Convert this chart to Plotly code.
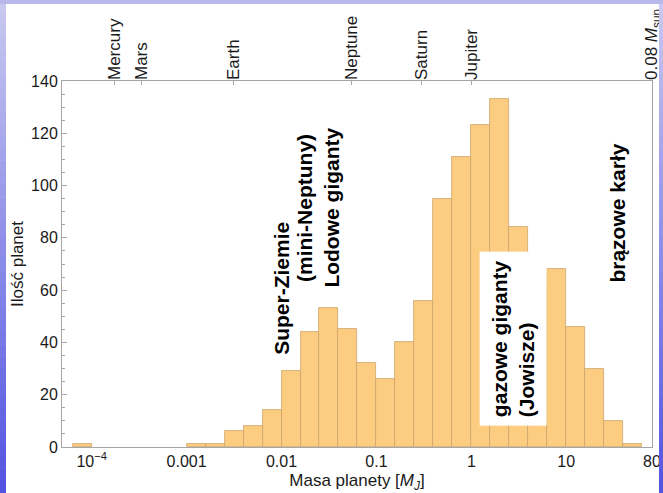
import math
import plotly.graph_objects as go

# Histogram of exoplanet masses, binned in log10(M / M_J) with 0.2-dex bins
bin_left_log10 = [-4.2, -3.0, -2.8, -2.6, -2.4, -2.2, -2.0, -1.8, -1.6, -1.4,
                  -1.2, -1.0, -0.8, -0.6, -0.4, -0.2, 0.0, 0.2, 0.4, 0.6,
                  0.8, 1.0, 1.2, 1.4, 1.6]
planet_counts = [1, 1, 1, 6, 8, 14, 29, 44, 53, 45,
                 32, 26, 40, 56, 95, 111, 123, 133, 84, 60,
                 68, 46, 30, 10, 1]
bin_width = 0.2

# Bottom axis ticks (mass in Jupiter masses)
bottom_tick_masses = [1e-4, 1e-3, 1e-2, 1e-1, 1, 10, 80]
bottom_tick_text = ["10<sup>\u22124</sup>", "0.001", "0.01", "0.1", "1", "10", "80"]

# Reference bodies on the top axis (mass in Jupiter masses)
ref_names = ["Mercury", "Mars", "Earth", "Neptune", "Saturn", "Jupiter",
             "0.08 <i>M</i><sub>sun</sub>"]
ref_masses = [1.74e-4, 3.38e-4, 3.146e-3, 0.0540, 0.299, 1.0, 80]

x_range = [-4.313, math.log10(80) + 0.0005]

W, H = 663, 493
M_L, M_R, M_T, M_B = 62, 11, 81, 46
FONT = "Liberation Sans, Arial, Helvetica, sans-serif"
BAR_FILL = "#FCCD80"
BAR_EDGE = "#C9A36A"
FRAME = "#A6A6A6"

centers = [b + bin_width / 2 for b in bin_left_log10]

fig = go.Figure()
fig.add_trace(go.Bar(
    x=centers, y=planet_counts, width=bin_width,
    marker=dict(color=BAR_FILL, line=dict(color=BAR_EDGE, width=0.8)),
    hoverinfo="skip", showlegend=False,
))
# empty trace so the top axis is laid out
fig.add_trace(go.Scatter(x=[None], y=[None], xaxis="x2", showlegend=False, hoverinfo="skip"))

tick_font = dict(family=FONT, size=16, color="#1a1a1a")

fig.update_layout(
    width=W, height=H,
    margin=dict(l=M_L, r=M_R, t=M_T, b=M_B, pad=0, autoexpand=False),
    paper_bgcolor="white", plot_bgcolor="white",
    bargap=0,
    xaxis=dict(
        range=x_range, showgrid=False, zeroline=False, automargin=False,
        showline=True, linecolor=FRAME, linewidth=1, mirror=True,
        tickvals=[math.log10(m) for m in bottom_tick_masses],
        ticktext=bottom_tick_text, ticks="", ticklabeloverflow="allow",
        tickfont=tick_font,
        title=dict(text="Masa planety [<i>M</i><sub><i>J</i></sub>]",
                   font=dict(family=FONT, size=17, color="#1a1a1a"), standoff=6),
    ),
    xaxis2=dict(
        overlaying="x", side="top", matches="x", range=x_range, automargin=False,
        showgrid=False, zeroline=False, showline=False,
        tickvals=[math.log10(m) for m in ref_masses], ticktext=ref_names,
        tickangle=-90, ticks="inside", ticklen=4, tickcolor=FRAME,
        ticklabeloverflow="allow",
        tickfont=dict(family=FONT, size=17, color="#1a1a1a"),
    ),
    yaxis=dict(
        range=[0, 140], showgrid=False, zeroline=False, automargin=False,
        showline=True, linecolor=FRAME, linewidth=1, mirror=True,
        tickvals=list(range(0, 141, 20)), ticks="inside", ticklen=5,
        tickcolor=FRAME, tickfont=tick_font,
        minor=dict(dtick=5, ticks="inside", ticklen=3, tickcolor=FRAME),
        title=dict(text="Ilo\u015b\u0107 planet",
                   font=dict(family=FONT, size=17, color="#1a1a1a"), standoff=3),
    ),
)

# Category labels inside the plot
label_font = dict(family=FONT, size=21, color="black", weight="bold")
labels = [
    ("Super-Ziemie", -1.995, 60.5),
    ("(mini-Neptuny)", -1.75, 91.5),
    ("Lodowe giganty", -1.47, 91.5),
    ("br\u0105zowe karły", 1.53, 89.5),
]
for text, xv, yv in labels:
    fig.add_annotation(x=xv, y=yv, xref="x", yref="y", text=text, showarrow=False,
                       textangle=-90, font=label_font)
fig.add_annotation(x=0.435, y=41.5, xref="x", yref="y",
                   text="gazowe giganty<br>(Jowisze)", showarrow=False,
                   textangle=-90, align="left", font=label_font,
                   bgcolor="white", borderpad=8)

# Page border: lavender-to-blue gradient strips on the left, top and right
pw = W - M_L - M_R
ph = H - M_T - M_B


def px_x(px):
    return (px - M_L) / pw


def px_y(py):
    return 1 - (py - M_T) / ph


def mix(c1, c2, t):
    return "rgb({},{},{})".format(*[round(a + (b - a) * t) for a, b in zip(c1, c2)])


top_col = (200, 200, 240)
bot_col = (84, 84, 226)
n = 40
for i in range(n):
    y0 = H * i / n
    y1 = H * (i + 1) / n + 0.5
    col = mix(top_col, bot_col, i / (n - 1))
    for x0, x1 in ((0, 6), (659, W)):
        fig.add_shape(type="rect", xref="paper", yref="paper",
                      x0=px_x(x0), x1=px_x(x1), y0=px_y(y1), y1=px_y(y0),
                      line=dict(width=0), fillcolor=col, layer="above")
fig.add_shape(type="rect", xref="paper", yref="paper",
              x0=px_x(0), x1=px_x(W), y0=px_y(4), y1=px_y(0),
              line=dict(width=0), fillcolor="rgb(184,184,234)", layer="above")

fig.write_html("out.html")
